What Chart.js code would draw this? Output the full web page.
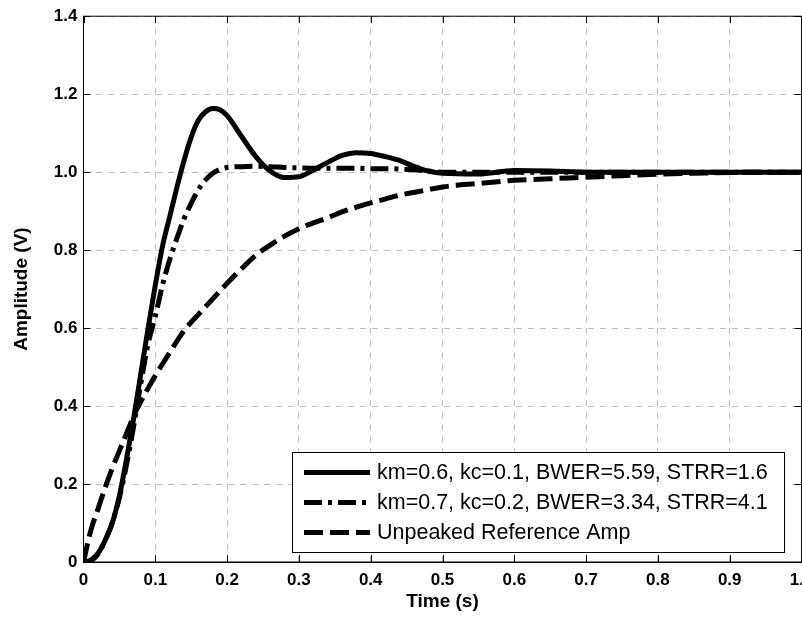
<!DOCTYPE html>
<html>
<head>
<meta charset="utf-8">
<script src="https://cdn.jsdelivr.net/npm/chart.js@4.4.0/dist/chart.umd.min.js"></script>
<style>
  html, body { margin: 0; padding: 0; background: #fff; overflow: hidden; }
  #wrap { position: absolute; left: 0; top: 0; width: 830px; height: 624px; }
</style>
</head>
<body>
<div id="wrap"><canvas id="c" width="830" height="624"></canvas></div>
<script>
// time axis (s), shared by the three step responses
const time = [0, 0.01, 0.02, 0.03, 0.04, 0.05, 0.06, 0.07, 0.08, 0.09, 0.1, 0.11, 0.12, 0.13, 0.14, 0.15,
  0.16, 0.17, 0.18, 0.19, 0.2, 0.22, 0.24, 0.26, 0.28, 0.3, 0.32, 0.34, 0.36, 0.38, 0.4, 0.42, 0.44,
  0.46, 0.48, 0.5, 0.55, 0.6, 0.65, 0.7, 0.75, 0.8, 0.85, 0.9, 0.95, 1.0];

// km=0.6, kc=0.1
const ampPeaked = [0, 0.005, 0.022, 0.055, 0.1, 0.17, 0.265, 0.37, 0.485, 0.6, 0.71, 0.81, 0.885, 0.96, 1.03, 1.09,
  1.133, 1.155, 1.163, 1.16, 1.145, 1.092, 1.04, 1.003, 0.986, 0.988, 1.005, 1.025, 1.043, 1.05, 1.048, 1.04, 1.03,
  1.015, 1.003, 0.997, 0.995, 1.004, 1.003, 1.0, 1.0, 1.0, 1.0, 1.0, 1.0, 1.0];

// km=0.7, kc=0.2
const ampDamped = [0, 0.003, 0.02, 0.055, 0.1, 0.165, 0.25, 0.35, 0.46, 0.56, 0.63, 0.71, 0.775, 0.83, 0.88, 0.92,
  0.955, 0.98, 0.997, 1.007, 1.012, 1.014, 1.015, 1.014, 1.012, 1.011, 1.01, 1.01, 1.01, 1.01, 1.009, 1.009, 1.008,
  1.006, 1.003, 1.0, 1.0, 1.0, 1.0, 1.0, 1.0, 1.0, 1.0, 1.0, 1.0, 1.0];

// unpeaked reference amplifier
const ampRef = [0, 0.08, 0.135, 0.19, 0.24, 0.285, 0.33, 0.375, 0.412, 0.446, 0.478, 0.508, 0.537, 0.566, 0.593, 0.615,
  0.635, 0.655, 0.675, 0.695, 0.715, 0.752, 0.787, 0.813, 0.836, 0.855, 0.87, 0.883, 0.898, 0.91, 0.921, 0.931, 0.941,
  0.948, 0.955, 0.962, 0.971, 0.979, 0.983, 0.987, 0.991, 0.995, 0.997, 0.999, 1.0, 1.0];

const seriesLabels = [
  'km=0.6, kc=0.1, BWER=5.59, STRR=1.6',
  'km=0.7, kc=0.2, BWER=3.34, STRR=4.1',
  'Unpeaked Reference Amp'
];
const seriesDash = [[], [18, 6, 4, 6], [19, 7]];

const xMin = 0, xMax = 1, xStep = 0.1;
const yMin = 0, yMax = 1.4, yStep = 0.2;

const toPoints = vals => vals.map((v, i) => ({ x: time[i], y: v }));
const seriesValues = [ampPeaked, ampDamped, ampRef];

const tickFont = { family: '"Liberation Sans", Arial, sans-serif', size: 17, weight: 'bold' };
const titleFont = { family: '"Liberation Sans", Arial, sans-serif', size: 19, weight: 'bold' };

// matlab style box with inward ticks
const boxTicks = {
  id: 'boxTicks',
  afterDatasetsDraw(chart) {
    const { ctx, chartArea: a, scales: { x, y } } = chart;
    ctx.save();
    ctx.strokeStyle = '#000';
    ctx.lineWidth = 1;
    ctx.beginPath();
    x.ticks.forEach(t => {
      const px = Math.round(x.getPixelForValue(t.value)) + 0.5;
      ctx.moveTo(px, a.bottom); ctx.lineTo(px, a.bottom - 7);
      ctx.moveTo(px, a.top); ctx.lineTo(px, a.top + 7);
    });
    y.ticks.forEach(t => {
      const py = Math.round(y.getPixelForValue(t.value)) + 0.5;
      ctx.moveTo(a.left, py); ctx.lineTo(a.left + 7, py);
      ctx.moveTo(a.right, py); ctx.lineTo(a.right - 7, py);
    });
    ctx.stroke();
    ctx.strokeRect(a.left, a.top, a.right - a.left, a.bottom - a.top);
    ctx.restore();
  }
};

// legend box in the lower right corner
const boxLegend = {
  id: 'boxLegend',
  afterDraw(chart) {
    const { ctx, chartArea: a } = chart;
    const w = 492, h = 100;
    const left = Math.round(a.right - 17.5 - w), top = Math.round(a.bottom - 10 - h);
    ctx.save();
    ctx.fillStyle = '#fff';
    ctx.fillRect(left, top, w, h);
    ctx.strokeStyle = '#000';
    ctx.lineWidth = 1;
    ctx.strokeRect(left + 0.5, top + 0.5, w, h);
    ctx.font = '21.5px "Liberation Sans", Arial, sans-serif';
    ctx.textBaseline = 'middle';
    ctx.fillStyle = '#000';
    chart.data.datasets.forEach((ds, i) => {
      const yy = top + 20.5 + i * 30;
      ctx.lineWidth = ds.borderWidth;
      ctx.setLineDash(ds.borderDash);
      ctx.beginPath();
      ctx.moveTo(left + 12, yy); ctx.lineTo(left + 78, yy);
      ctx.stroke();
      ctx.setLineDash([]);
      ctx.fillText(ds.label, left + 85, yy + 1);
    });
    ctx.restore();
  }
};

new Chart(document.getElementById('c'), {
  type: 'line',
  data: {
    datasets: seriesValues.map((vals, i) => ({
      label: seriesLabels[i],
      data: toPoints(vals),
      borderColor: '#000',
      borderWidth: 5,
      borderDash: seriesDash[i],
      borderJoinStyle: 'round',
      pointRadius: 0,
      cubicInterpolationMode: 'monotone',
      fill: false
    }))
  },
  options: {
    responsive: false,
    animation: false,
    layout: { padding: { left: 0, top: 16, right: 28.5, bottom: 0 } },
    plugins: { legend: { display: false }, tooltip: { enabled: false } },
    scales: {
      x: {
        type: 'linear', min: xMin, max: xMax,
        afterFit: s => { s.height = 62; },
        ticks: { stepSize: xStep, color: '#000', font: tickFont, padding: 8, maxRotation: 0 },
        grid: { color: '#bdbdbd', lineWidth: 1, drawTicks: false },
        border: { display: true, color: '#000', width: 1, dash: [6, 6] },
        title: { display: true, text: 'Time (s)', color: '#000', font: titleFont, padding: { top: 0, bottom: 11 } }
      },
      y: {
        min: yMin, max: yMax,
        afterFit: s => { s.width = 83.5; },
        ticks: { stepSize: yStep, color: '#000', font: tickFont, padding: 6 },
        grid: { color: '#bdbdbd', lineWidth: 1, drawTicks: false },
        border: { display: true, color: '#000', width: 1, dash: [6, 6] },
        title: { display: true, text: 'Amplitude (V)', color: '#000', font: titleFont, padding: { top: 10.5, bottom: 0 } }
      }
    }
  },
  plugins: [boxTicks, boxLegend]
});
</script>
</body>
</html>
